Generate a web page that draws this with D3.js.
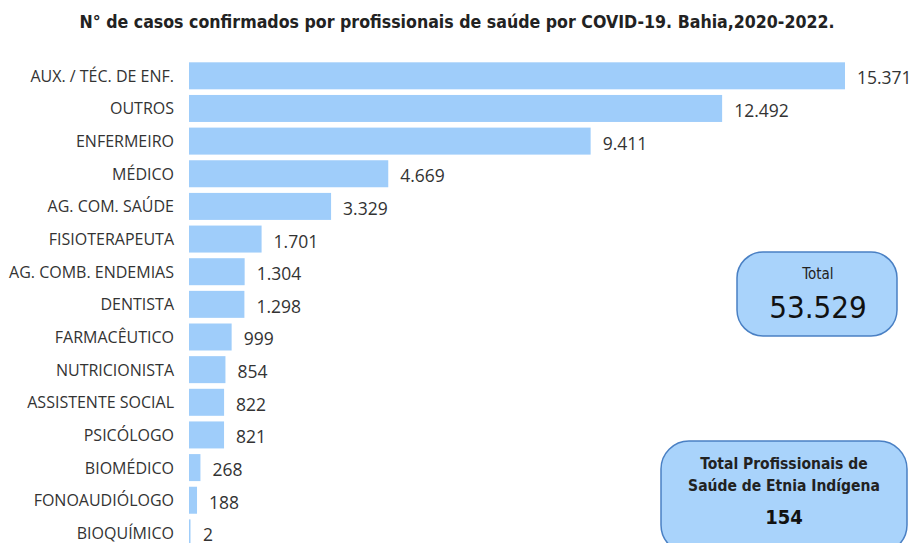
<!DOCTYPE html>
<html>
<head>
<meta charset="utf-8">
<style>
body { margin: 0; background: #fff; }
svg text { font-family: "Open Sans", "DejaVu Sans", sans-serif; }
</style>
</head>
<body>
<svg width="913" height="543"></svg>
<script src="https://cdn.jsdelivr.net/npm/d3@7/dist/d3.min.js"></script>
<script>
var categories = ["AUX. / TÉC. DE ENF.", "OUTROS", "ENFERMEIRO", "MÉDICO", "AG. COM. SAÚDE",
    "FISIOTERAPEUTA", "AG. COMB. ENDEMIAS", "DENTISTA", "FARMACÊUTICO", "NUTRICIONISTA",
    "ASSISTENTE SOCIAL", "PSICÓLOGO", "BIOMÉDICO", "FONOAUDIÓLOGO", "BIOQUÍMICO"];
var values = [15371, 12492, 9411, 4669, 3329, 1701, 1304, 1298, 999, 854, 822, 821, 268, 188, 2];
var totalLabel = "Total";
var totalValue = 53529;
var indigenaLines = ["Total Profissionais de", "Saúde de Etnia Indígena"];
var indigenaValue = 154;

var svg = d3.select("svg"),
    width = +svg.attr("width"),
    height = +svg.attr("height");

var fmt = d3.formatLocale({decimal: ",", thousands: ".", grouping: [3], currency: ["R$", ""]}).format(",d");

svg.append("text")
    .attr("x", 457).attr("y", 28)
    .attr("text-anchor", "middle")
    .attr("textLength", 755).attr("lengthAdjust", "spacingAndGlyphs")
    .style("font-family", "'DejaVu Sans Condensed', 'Liberation Sans Narrow', sans-serif")
    .style("font-weight", "bold")
    .style("font-size", "17px")
    .attr("fill", "#222")
    .text("N° de casos confirmados por profissionais de saúde por COVID-19. Bahia,2020-2022.");

var x = d3.scaleLinear().domain([0, 15371]).range([189, 845]);
var y = d3.scaleBand().domain(categories).range([59.7, 549]).paddingInner(0.173).paddingOuter(0.08);

var g = svg.append("g");

g.selectAll(".bar").data(categories).enter().append("rect")
    .attr("class", "bar")
    .attr("x", x(0))
    .attr("y", d => y(d))
    .attr("width", (d, i) => Math.max(1.5, x(values[i]) - x(0)))
    .attr("height", y.bandwidth())
    .attr("fill", "#9fcdfa");

g.selectAll(".cat").data(categories).enter().append("text")
    .attr("class", "cat")
    .attr("x", 174)
    .attr("y", d => y(d) + y.bandwidth() / 2 + 6)
    .attr("text-anchor", "end")
    .style("font-size", "16px")
    .attr("fill", "#333")
    .text(d => d);

g.selectAll(".val").data(categories).enter().append("text")
    .attr("class", "val")
    .attr("x", (d, i) => Math.max(x(values[i]), x(0) + 2) + 12)
    .attr("y", d => y(d) + y.bandwidth() / 2 + 8.5)
    .style("font-size", "17.5px")
    .attr("fill", "#333")
    .text((d, i) => fmt(values[i]));

// boxes
var boxFont = "'DejaVu Sans Condensed', 'DejaVu Sans', sans-serif";
svg.append("rect")
    .attr("x", 737).attr("y", 252).attr("width", 160).attr("height", 84)
    .attr("rx", 26).attr("ry", 26)
    .attr("fill", "#a9d3fb").attr("stroke", "#4a80c4").attr("stroke-width", 1.5);
svg.append("text")
    .attr("x", 818).attr("y", 279).attr("text-anchor", "middle")
    .style("font-family", boxFont).style("font-size", "15px")
    .attr("fill", "#222").text(totalLabel);
svg.append("text")
    .attr("x", 818).attr("y", 318).attr("text-anchor", "middle")
    .style("font-family", boxFont).style("font-size", "31px")
    .attr("fill", "#111").text(fmt(totalValue));

svg.append("rect")
    .attr("x", 661).attr("y", 441).attr("width", 246).attr("height", 112)
    .attr("rx", 28).attr("ry", 28)
    .attr("fill", "#a9d3fb").attr("stroke", "#4a80c4").attr("stroke-width", 1.5);
svg.selectAll(".ind").data(indigenaLines).enter().append("text")
    .attr("class", "ind")
    .attr("x", 784).attr("y", (d, i) => 469 + i * 22).attr("text-anchor", "middle")
    .style("font-family", boxFont).style("font-size", "15.5px").style("font-weight", "bold")
    .attr("fill", "#222").text(d => d);
svg.append("text")
    .attr("x", 784).attr("y", 524).attr("text-anchor", "middle")
    .style("font-family", boxFont).style("font-size", "20px").style("font-weight", "bold")
    .attr("fill", "#111").text(fmt(indigenaValue));
</script>
</body>
</html>
